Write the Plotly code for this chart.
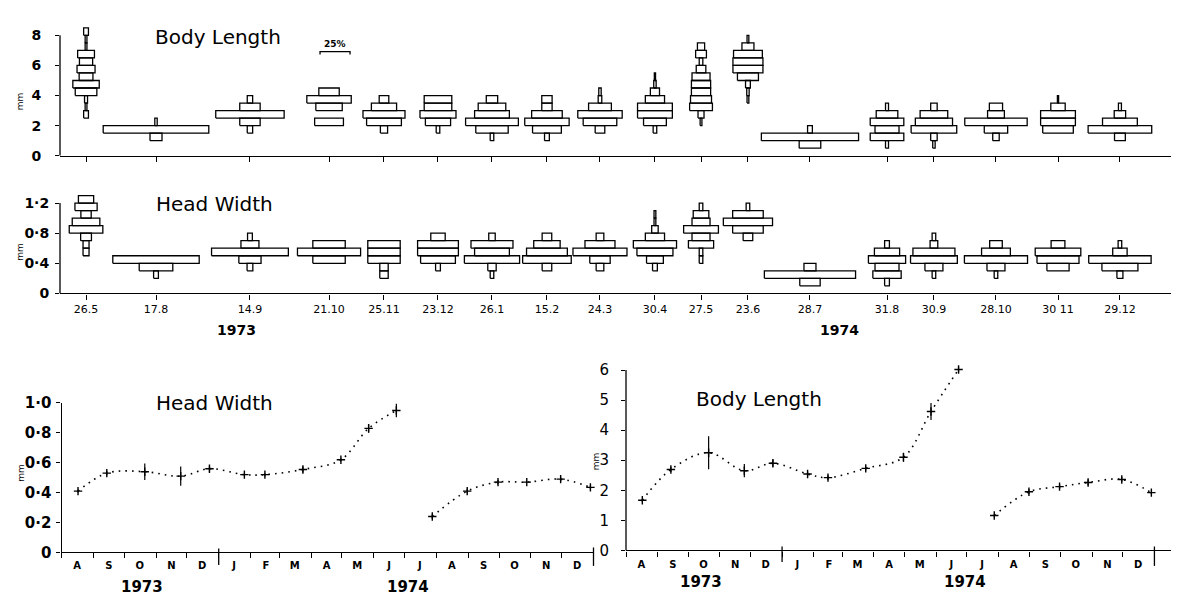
import datetime as dt
import plotly.graph_objects as go

W, H = 1179, 596
FONT = "DejaVu Sans"

# ---------------- data ----------------
sample_labels = ["26.5", "17.8", "14.9", "21.10", "25.11", "23.12", "26.1", "15.2", "24.3",
                 "30.4", "27.5", "23.6", "28.7", "31.8", "30.9", "28.10", "30 11", "29.12"]

# size-frequency kites: lowest class start (mm) and % per class upward
BODY_CLASS = 0.5
body_start = [2.5, 1.0, 1.5, 2.0, 1.5, 1.5, 1.0, 1.0, 1.5, 1.5, 2.0, 3.5, 0.5, 0.5, 0.5, 1.0, 1.5, 1.0]
body_pct = [
    [4, 1.5, 2.5, 18, 22, 11.5, 15, 11, 14, 1.5, 1.5, 4],
    [10, 88, 2],
    [4.5, 17, 57, 17, 4.5],
    [24, 0, 22, 37, 17],
    [6, 29, 35, 21, 8],
    [3, 21, 30, 23, 23],
    [3, 27, 44, 29, 23, 9.5],
    [4, 24, 37, 25.5, 8.6, 8.6],
    [8, 28, 37, 19, 3, 2],
    [3, 19, 29, 29, 16, 7.6, 2, 1],
    [1.5, 5, 19, 17.5, 16, 16, 15, 8, 3, 9, 6],
    [1.5, 2, 4, 17.5, 25, 25, 24, 10, 1.5],
    [18, 81, 4],
    [2.5, 28, 20, 28, 18, 2.5],
    [2, 5.4, 38, 31, 23, 5.4],
    [5.4, 19.5, 52, 14, 11],
    [25.5, 29, 29, 12, 1],
    [9, 53, 29, 9.5, 2.5],
]

HEAD_CLASS = 0.1
head_start = [0.5, 0.2, 0.3, 0.4, 0.2, 0.3, 0.2, 0.3, 0.3, 0.3, 0.4, 0.7, 0.1, 0.1, 0.2, 0.2, 0.3, 0.2]
head_pct = [
    [5, 5, 9, 28, 23, 8.6, 18.5, 12.7],
    [4, 28, 72],
    [4.8, 18.5, 64, 15, 4],
    [27, 52.6, 27],
    [7, 7, 27, 27, 27],
    [4, 29, 34, 34, 12],
    [3, 7, 46, 29, 35, 5.4],
    [8, 40.5, 34, 22, 8],
    [6.4, 17, 45, 25, 6.4],
    [4, 14, 30, 36, 16, 5.4, 1.5, 1.5],
    [3, 3, 21, 15, 29, 15, 13, 3],
    [8, 25.5, 41, 25.5, 3],
    [17, 76, 10],
    [4, 23.6, 20, 31, 21, 4],
    [3, 15, 39, 35, 6.4, 3],
    [3, 15, 52.6, 24, 10.5],
    [18.5, 35, 38, 11.5],
    [5, 30, 52, 12, 3],
]
SCALE_BAR_PCT = 25

# monthly means (bottom panels)
mean_dates = ["1973-08-17", "1973-09-14", "1973-10-21", "1973-11-25", "1973-12-23",
              "1974-01-26", "1974-02-15", "1974-03-24", "1974-04-30", "1974-05-27",
              "1974-06-23", "1974-07-28", "1974-08-31", "1974-09-30", "1974-10-28",
              "1974-11-30", "1974-12-29"]
segment = [1, 1, 1, 1, 1, 1, 1, 1, 1, 1, 1, 2, 2, 2, 2, 2, 2]
head_mean = [0.41, 0.53, 0.54, 0.51, 0.56, 0.52, 0.52, 0.555, 0.62, 0.83, 0.95,
             0.24, 0.41, 0.47, 0.47, 0.49, 0.435]
head_err = [0.01, 0.015, 0.055, 0.065, 0.02, 0.005, 0.01, 0.02, 0.01, 0.03, 0.045,
            0.015, 0.015, 0.015, 0.005, 0.015, 0.015]
body_mean = [1.67, 2.69, 3.25, 2.65, 2.9, 2.54, 2.42, 2.73, 3.1, 4.62, 6.02,
             1.16, 1.95, 2.12, 2.26, 2.36, 1.92]
body_err = [0.05, 0.08, 0.55, 0.22, 0.12, 0.08, 0.08, 0.06, 0.15, 0.28, 0.1,
            0.03, 0.08, 0.08, 0.1, 0.08, 0.04]
month_letters = ["A", "S", "O", "N", "D", "J", "F", "M", "A", "M", "J", "J", "A", "S", "O", "N", "D"]

# ---------------- layout constants ----------------
# kite x-axis is in "percent" units (100 % of one sample = 120 px)
SAMPLE_POS = [21.7, 80.0, 158.3, 224.2, 270.0, 315.0, 360.0, 405.8, 450.0,
              495.8, 534.2, 573.3, 625.0, 689.2, 728.3, 780.0, 831.7, 883.3]
SCALE_BAR_X = 229.2


def px_x(p):
    return p / W


def px_y(p):
    return 1 - p / H


def kite_path(starts, pcts, step):
    xs, ys = [], []
    for c, s, row in zip(SAMPLE_POS, starts, pcts):
        for i, p in enumerate(row):
            if p <= 0:
                continue
            lo = round(s + i * step, 4)
            hi = round(lo + step, 4)
            h = p / 2.0
            xs += [c - h, c + h, c + h, c - h, c - h, None]
            ys += [lo, lo, hi, hi, lo, None]
    return xs, ys


fig = go.Figure()

bx, by = kite_path(body_start, body_pct, BODY_CLASS)
fig.add_trace(go.Scatter(x=bx, y=by, mode="lines", line=dict(color="black", width=1.3),
                         xaxis="x", yaxis="y", hoverinfo="skip", showlegend=False))
hx, hy = kite_path(head_start, head_pct, HEAD_CLASS)
fig.add_trace(go.Scatter(x=hx, y=hy, mode="lines", line=dict(color="black", width=1.3),
                         xaxis="x2", yaxis="y2", hoverinfo="skip", showlegend=False))


def add_means(vals, errs, xa, ya):
    for seg in sorted(set(segment)):
        idx = [i for i, s in enumerate(segment) if s == seg]
        fig.add_trace(go.Scatter(
            x=[mean_dates[i] for i in idx], y=[vals[i] for i in idx],
            mode="lines+markers",
            line=dict(color="black", width=1.6, dash="1.6px,5px", shape="spline", smoothing=1.0),
            marker=dict(symbol="cross-thin", size=6, color="black",
                        line=dict(width=1.4, color="black")),
            error_y=dict(type="data", array=[errs[i] for i in idx], visible=True,
                         thickness=1.2, width=0, color="black"),
            cliponaxis=False, xaxis=xa, yaxis=ya, hoverinfo="skip", showlegend=False))


add_means(head_mean, head_err, "x3", "y3")
add_means(body_mean, body_err, "x4", "y4")

# month ticks for bottom panels
month_starts, month_mids = [], []
for i in range(18):
    y_, m_ = 1973 + (7 + i) // 12, (7 + i) % 12 + 1
    d = dt.date(y_, m_, 1)
    month_starts.append(d.isoformat())
    if i < 17:
        month_mids.append((d + dt.timedelta(days=15)).isoformat())

axis_common = dict(showgrid=False, zeroline=False, linecolor="black", linewidth=1.3,
                   tickcolor="black", tickwidth=1.2)

kite_x = dict(axis_common, tickmode="array", tickvals=SAMPLE_POS, ticks="outside", ticklen=5,
              showline=True)
ytick_font = dict(family=FONT, size=14, color="black", weight="bold")

date_x = dict(axis_common, type="date", tickmode="array", tickvals=month_mids,
              ticktext=month_letters, ticks="", showline=True,
              tickfont=dict(family=FONT, size=10, color="black", weight="bold"),
              ticklabelstandoff=4,
              minor=dict(tickmode="array", tickvals=month_starts, ticks="outside",
                         ticklen=5, tickcolor="black", tickwidth=1.2, showgrid=False))

fig.update_layout(
    width=W, height=H, margin=dict(l=0, r=0, t=0, b=0),
    paper_bgcolor="white", plot_bgcolor="white", showlegend=False,
    font=dict(family=FONT, color="black"),
    xaxis=dict(kite_x, anchor="y", domain=[px_x(52), px_x(1179)], range=[0, 939.2],
               ticktext=[""] * len(SAMPLE_POS)),
    yaxis=dict(axis_common, anchor="x", domain=[px_y(143), px_y(7)], range=[0, 8.77],
               tickmode="array", tickvals=[0, 2, 4, 6, 8], ticktext=["0", "2", "4", "6", "8"],
               ticks="outside", ticklen=4, showline=False, tickfont=ytick_font,
               ticklabelstandoff=11),
    xaxis2=dict(kite_x, anchor="y2", domain=[px_x(52), px_x(1167)], range=[0, 929.2],
                ticktext=sample_labels,
                tickfont=dict(family=FONT, size=11, color="black")),
    yaxis2=dict(axis_common, anchor="x2", domain=[px_y(285), px_y(182)], range=[0, 1.327],
                tickmode="array", tickvals=[0, 0.4, 0.8, 1.2],
                ticktext=["0", "0·4", "0·8", "1·2"],
                ticks="outside", ticklen=4, showline=False, tickfont=ytick_font,
                ticklabelstandoff=3),
    xaxis3=dict(date_x, anchor="y3", domain=[px_x(53.6), px_x(585.5)],
                range=["1973-08-01", "1975-01-01"]),
    yaxis3=dict(axis_common, anchor="x3", domain=[px_y(552), px_y(398)], range=[0, 1.0],
                tickmode="array", tickvals=[0, 0.2, 0.4, 0.6, 0.8, 1.0],
                ticktext=["0", "0·2", "0·4", "0·6", "0·8", "1·0"],
                ticks="outside", ticklen=4, showline=True,
                tickfont=dict(family=FONT, size=15, color="black", weight="bold"),
                ticklabelstandoff=2),
    xaxis4=dict(date_x, anchor="y4", domain=[px_x(618), px_x(1176)],
                range=["1973-08-01", "1975-01-30"]),
    yaxis4=dict(axis_common, anchor="x4", domain=[px_y(550), px_y(360.3)], range=[0, 6.12],
                tickmode="array", tickvals=[0, 1, 2, 3, 4, 5, 6],
                ticks="outside", ticklen=4, showline=False,
                tickfont=dict(family=FONT, size=15, color="black"),
                ticklabelstandoff=9),
)

line_style = dict(color="black", width=1.3)
shapes = [
    # y-axis lines of panels (to top tick only)
    dict(type="line", xref="x domain", yref="y", x0=0, x1=0, y0=0, y1=8, line=line_style),
    dict(type="line", xref="x2 domain", yref="y2", x0=0, x1=0, y0=0, y1=1.2, line=line_style),
    dict(type="line", xref="x4 domain", yref="y4", x0=0, x1=0, y0=0, y1=6, line=line_style),
    # 25 % scale bar
    dict(type="path", xref="x", yref="y",
         path=f"M {SCALE_BAR_X - SCALE_BAR_PCT / 2},6.72 L {SCALE_BAR_X - SCALE_BAR_PCT / 2},6.92 "
              f"L {SCALE_BAR_X + SCALE_BAR_PCT / 2},6.92 L {SCALE_BAR_X + SCALE_BAR_PCT / 2},6.72",
         line=line_style),
    # year-boundary ticks on bottom panels
    dict(type="line", xref="x3", yref="paper", x0="1974-01-01", x1="1974-01-01",
         y0=px_y(565), y1=px_y(548), line=line_style),
    dict(type="line", xref="x3 domain", yref="paper", x0=1, x1=1,
         y0=px_y(566), y1=px_y(547), line=line_style),
    dict(type="line", xref="x4", yref="paper", x0="1974-01-01", x1="1974-01-01",
         y0=px_y(562), y1=px_y(546), line=line_style),
    dict(type="line", xref="x4", yref="paper", x0="1975-01-01", x1="1975-01-01",
         y0=px_y(566), y1=px_y(546), line=line_style),
]
fig.update_layout(shapes=shapes)

ann = []


def add_text(text, x, y, size, bold=False, angle=0, xref="paper", yref="paper"):
    ann.append(dict(text=text, x=x, y=y, xref=xref, yref=yref, showarrow=False,
                    xanchor="center", yanchor="middle", textangle=angle,
                    font=dict(family=FONT, size=size, color="black",
                              weight="bold" if bold else "normal")))


add_text("Body Length", px_x(210), px_y(21), 20)
add_text("Head Width", px_x(206), px_y(193), 20)
add_text("Head Width", px_x(207), px_y(398), 20)
add_text("Body Length", px_x(751), px_y(394), 20)
add_text(f"{SCALE_BAR_PCT}%", SCALE_BAR_X, 7.4, 9, bold=True, xref="x", yref="y")
add_text("1973", px_x(229), px_y(323), 14, bold=True)
add_text("1974", px_x(831), px_y(323), 14, bold=True)
add_text("1973", px_x(134), px_y(588), 15, bold=True)
add_text("1974", px_x(400), px_y(588), 15, bold=True)
add_text("1973", px_x(693), px_y(583), 15, bold=True)
add_text("1974", px_x(957), px_y(583), 15, bold=True)
for (mx, my) in [(12, 87), (12, 242), (13, 470), (588, 458)]:
    add_text("mm", px_x(mx), px_y(my), 9, angle=-90)
fig.update_layout(annotations=ann)

fig.write_html("out.html")
